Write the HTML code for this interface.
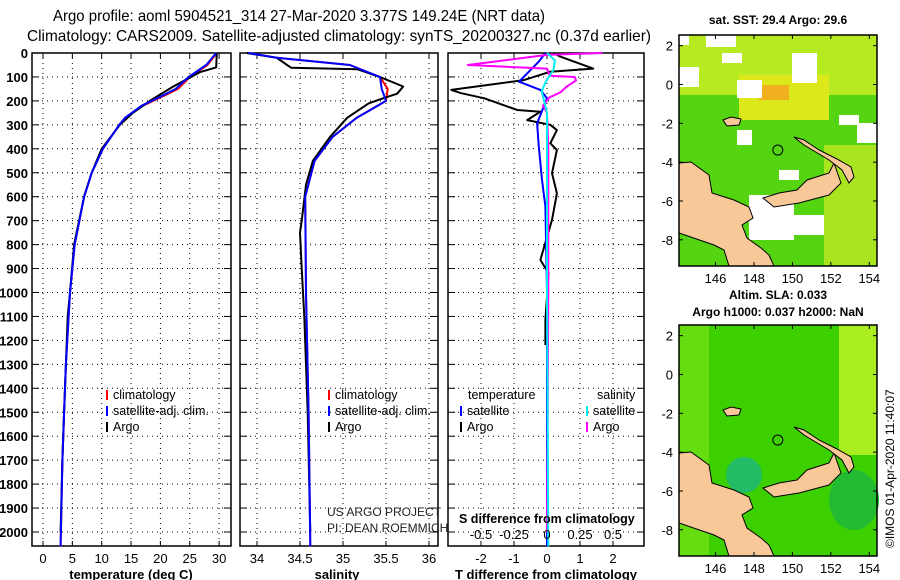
<!DOCTYPE html>
<html><head><meta charset="utf-8"><style>
body{margin:0;background:#fff}
svg{display:block;font-family:"Liberation Sans",sans-serif}
.t{font-size:14px;fill:#000}
.b{font-weight:bold;font-size:12.5px}
</style></head><body>
<svg id="s" width="900" height="580" viewBox="0 0 900 580">
<text x="53" y="21" textLength="492" lengthAdjust="spacingAndGlyphs" class="t" style="font-size:16px">Argo profile: aoml 5904521_314 27-Mar-2020 3.377S 149.24E (NRT data)</text>
<text x="27" y="41" textLength="624" lengthAdjust="spacingAndGlyphs" class="t" style="font-size:16px">Climatology: CARS2009. Satellite-adjusted climatology: synTS_20200327.nc (0.37d earlier)</text>
<g id="plots"></g>
<g id="maps"></g>
</svg>
<script>
// ---- data ----
const depthTicks=[0,100,200,300,400,500,600,700,800,900,1000,1100,1200,1300,1400,1500,1600,1700,1800,1900,2000];
const tempTicks=[0,5,10,15,20,25,30];
const salTicks=[34,34.5,35,35.5,36];
const salTickLabels=["34","34.5","35","35.5","36"];
const tdiffTicks=[-2,-1,0,1,2];
const sdiffTicks=[-0.5,-0.25,0,0.25,0.5];
const sdiffTickLabels=["-0.5","-0.25","0","0.25","0.5"];
const argoTempDepth=[0,60,80,140,200,250,300,400,500,600,800,1000,1100,1300,1500,1700,2000];
const argoTemp=[29.6,29.5,26.7,22.2,18.2,15.3,13.1,10,8.3,7.0,5.3,4.6,4.2,3.9,3.6,3.3,3.0];
const climTempDepth=[0,50,100,150,180,220,270,300,400,500,600,800,1000,1300,1500,1700,2060];
const climTemp=[29.6,28,25,23,20.5,17,14,13,10.2,8.3,7,5.4,4.6,3.9,3.6,3.3,3.0];
const satTemp=[29.5,27.8,24.8,22.6,20.2,16.8,14,13,10.2,8.3,7,5.4,4.6,3.9,3.6,3.3,3.0];
const argoSalDepth=[0,20,50,62,68,100,140,170,185,210,270,350,450,550,700,750,900,1100,1500,2000];
const argoSal=[33.88,34.23,34.35,34.4,35.17,35.43,35.7,35.63,35.5,35.3,35.05,34.85,34.65,34.57,34.52,34.5,34.52,34.55,34.59,34.62];
const climSalDepth=[0,20,50,100,150,200,270,350,450,600,1000,1500,2060];
const climSal=[33.9,34.23,35.08,35.43,35.52,35.5,35.16,34.88,34.67,34.56,34.57,34.6,34.62];
const satSal=[33.9,34.23,35.08,35.43,35.45,35.5,35.16,34.88,34.67,34.56,34.57,34.6,34.62];
const tdArgoDepth=[0,15,65,78,113,154,168,189,238,245,280,300,322,377,405,502,586,697,864,920,1115,1219];
const tdArgo=[0.2,0.4,1.4,0.1,-0.7,-2.9,-2.6,-1.9,-0.9,-0.2,-0.6,0.1,0.3,0.1,0.3,0.15,0.3,0.15,-0.2,0.05,-0.05,-0.05];
const tdSatDepth=[0,36,85,120,154,189,294,391,530,641,1000,2060];
const tdSat=[-0.05,-0.25,-0.6,-0.85,-0.2,0,-0.3,-0.25,-0.15,-0.05,0,0];
const sdArgoDepth=[0,8,50,65,95,100,115,140,165,185,220,250,400,1000,2000];
const sdArgo=[0.42,0,-0.6,0,0.02,0.21,0.22,0.15,0.1,0.02,-0.03,0,0.01,0.01,0];
const sdSatDepth=[0,30,70,120,160,250,1000,2060];
const sdSat=[0,0.06,0.05,-0.01,-0.04,0,0,0.01];

const NS='http://www.w3.org/2000/svg';
const plots=document.getElementById('plots');
function mk(tag,attrs,parent){const e=document.createElementNS(NS,tag);for(const k in attrs)e.setAttribute(k,attrs[k]);(parent||plots).appendChild(e);return e;}
const Y0=53,YK=0.2395,YB=546;
const yS=d=>Y0+d*YK;
const panels=[
 {x0:32,x1:231,f:v=>43+v*5.87,name:'temperature'},
 {x0:240,x1:438,f:v=>257+(v-34)*86,name:'salinity'},
 {x0:448,x1:644,f:v=>547+v*33,name:'difference'}];
const sdX=v=>547+v*132;

panels.forEach((p,i)=>{
  const g=mk('g',{});
  
  
  const ticks=i==0?tempTicks:i==1?salTicks:tdiffTicks;
  ticks.forEach(t=>{const x=p.f(t);
    const l=mk('line',{x1:x,x2:x,y1:Y0,y2:YB,stroke:'#000','stroke-width':1,'stroke-dasharray':'1,4'},g);
    
    mk('line',{x1:x,x2:x,y1:Y0,y2:Y0+5,stroke:'#000'},g);
    mk('line',{x1:x,x2:x,y1:YB,y2:YB-5,stroke:'#000'},g);});
  depthTicks.forEach(d=>{const y=yS(d);
    const l=mk('line',{x1:p.x0,x2:p.x1,y1:y,y2:y,stroke:'#000','stroke-width':1,'stroke-dasharray':'1,4'},g);
    
    mk('line',{x1:p.x0,x2:p.x0+7,y1:y,y2:y,stroke:'#000'},g);
    mk('line',{x1:p.x1,x2:p.x1-7,y1:y,y2:y,stroke:'#000'},g);});
  const r=mk('rect',{x:p.x0,y:Y0,width:p.x1-p.x0,height:YB-Y0,fill:'none',stroke:'#000','stroke-width':1.5},g);
  
  ticks.forEach((t,k)=>{const tx=mk('text',{x:p.f(t),y:563,'text-anchor':'middle','font-size':13},g);
    tx.textContent=i==1?salTickLabels[k]:String(t);
    });
});
depthTicks.forEach(d=>{const t=mk('text',{x:28,y:yS(d)+5,'text-anchor':'end','font-size':13,'font-weight':'bold'});
  t.textContent=String(d);});

function line(xs,ds,fx,color,w,name){
  const pts=xs.map((v,k)=>fx(v).toFixed(1)+','+yS(ds[k]).toFixed(1)).join(' ');
  const e=mk('polyline',{points:pts,fill:'none',stroke:color,'stroke-width':w,'stroke-linejoin':'round'});
  }
const P=panels;
line(climTemp,climTempDepth,P[0].f,'#f00',2,'temp-climatology-line');
line(argoTemp,argoTempDepth,P[0].f,'#000',2,'temp-argo-line');
line(satTemp,climTempDepth,P[0].f,'#00f',2,'temp-satellite-line');
line(climSal,climSalDepth,P[1].f,'#f00',2,'sal-climatology-line');
line(argoSal,argoSalDepth,P[1].f,'#000',2,'sal-argo-line');
line(satSal,climSalDepth,P[1].f,'#00f',2,'sal-satellite-line');
line(tdArgo,tdArgoDepth,P[2].f,'#000',2,'tdiff-argo-line');
line(tdSat,tdSatDepth,P[2].f,'#00f',2,'tdiff-satellite-line');
line(sdArgo,sdArgoDepth,sdX,'#f0f',2,'sdiff-argo-line');
line(sdSat,sdSatDepth,sdX,'#0ee',2,'sdiff-satellite-line');

function txt(x,y,s,name,extra){const t=mk('text',Object.assign({x:x,y:y,'font-size':12.5},extra||{}));t.textContent=s;return t;}
function dash(x,y,c,name){const l=mk('line',{x1:x,x2:x,y1:y-10,y2:y,stroke:c,'stroke-width':2});}
[[107,113],[329,335]].forEach(([dx,tx],i)=>{
  dash(dx,400,'#f00','legend-climatology-swatch');txt(tx,399,'climatology','legend-climatology');
  dash(dx,416,'#00f','legend-satellite-swatch');txt(tx,415,'satellite-adj. clim.','legend-satellite');
  dash(dx,432,'#000','legend-argo-swatch');txt(tx,431,'Argo','legend-argo');});
txt(468,399,'temperature','legend-temperature-header');txt(597,399,'salinity','legend-salinity-header');
dash(461,416,'#00f','legend-t-satellite-swatch');txt(467,415,'satellite','legend-t-satellite');
dash(461,432,'#000','legend-t-argo-swatch');txt(467,431,'Argo','legend-t-argo');
dash(587,416,'#0ee','legend-s-satellite-swatch');txt(593,415,'satellite','legend-s-satellite');
dash(587,432,'#f0f','legend-s-argo-swatch');txt(593,431,'Argo','legend-s-argo');
txt(327,516,'US ARGO PROJECT','credit-project',{'font-size':12,fill:'#222'});
txt(327,532,'PI: DEAN ROEMMICH','credit-pi',{'font-size':12,fill:'#222'});
txt(459,523,'S difference from climatology','sdiff-axis-title',{'font-weight':'bold'});
sdiffTicks.forEach((t,k)=>txt(sdX(t),539,sdiffTickLabels[k],'sdiff-tick-label',{'text-anchor':'middle','font-size':13}));
txt(131,579,'temperature (deg C)','temp-axis-title',{'text-anchor':'middle','font-weight':'bold','font-size':13});
txt(337,579,'salinity','sal-axis-title',{'text-anchor':'middle','font-weight':'bold','font-size':13});
txt(546,579,'T difference from climatology','tdiff-axis-title',{'text-anchor':'middle','font-weight':'bold','font-size':13});

// ---- maps ----
const maps=document.getElementById('maps');
const latTicks=[2,0,-2,-4,-6,-8];
const lonTicks=[146,148,150,152,154];
function mapPanel(y0,h,top){
  const g=mk('g',{},maps);
  
  const X0=679,W=198;
  const lx=lon=>X0+(lon-144.1)*W/10.3, ly=lat=>y0+(2.55-lat)*h/11.9;
  mk('rect',{x:X0,y:y0,width:W,height:h,fill:top?'#55d411':'#3dd000'},g);
  if(top){
    mk('rect',{x:X0,y:y0,width:W,height:60,fill:'#b8ea22'},g);
    mk('rect',{x:X0+60,y:y0+40,width:90,height:45,fill:'#dde81a'},g);
    mk('rect',{x:X0+80,y:y0+50,width:30,height:15,fill:'#f0b020'},g);
    mk('rect',{x:X0+145,y:y0+110,width:53,height:120,fill:'#a8e420'},g);
    [[X0+27,y0+0,30,12],[X0+43,y0+18,20,10],[X0+0,y0+32,20,20],[X0+58,y0+45,25,18],[X0+113,y0+18,25,30],[X0+160,y0+80,20,10],[X0+178,y0+88,20,20],[X0+58,y0+95,15,15],[X0+100,y0+135,20,10],[X0+70,y0+160,45,45],[X0+115,y0+180,30,20],[X0+0,y0+0,10,10]].forEach(r=>{
      const e=mk('rect',{x:r[0],y:r[1],width:r[2],height:r[3],fill:'#fff'},g);});
  } else {
    mk('rect',{x:X0,y:y0,width:30,height:h,fill:'#66dd11'},g);
    mk('rect',{x:X0+160,y:y0,width:38,height:130,fill:'#aaee22'},g);
    mk('ellipse',{cx:X0+175,cy:y0+175,rx:25,ry:30,fill:'#22bb33'},g);
    mk('ellipse',{cx:X0+65,cy:y0+150,rx:18,ry:18,fill:'#22bb66'},g);
  }
  const pts=(a)=>a.map(p=>(X0+p[0])+','+(y0+p[1]*h/231)).join(' ');
  const land='#f8c898';
  mk('polygon',{points:pts([[0,128],[12,127],[30,140],[33,158],[55,165],[70,172],[74,183],[63,190],[68,203],[82,213],[90,220],[95,231],[50,231],[45,215],[35,210],[0,198]]),fill:land,stroke:'#000','stroke-width':1},g);
  mk('polygon',{points:pts([[84,163],[100,158],[118,155],[128,145],[150,138],[155,128],[162,148],[150,160],[120,168],[95,172]]),fill:land,stroke:'#000','stroke-width':1},g);
  mk('polygon',{points:pts([[115,102],[125,105],[140,115],[158,124],[172,132],[175,142],[170,148],[163,135],[150,125],[125,110]]),fill:land,stroke:'#000','stroke-width':1},g);
  mk('polygon',{points:pts([[44,85],[52,82],[62,84],[60,90],[48,91]]),fill:land,stroke:'#000','stroke-width':1},g);
  mk('circle',{cx:lx(149.24),cy:ly(-3.377),r:5,fill:'none',stroke:'#000'},g);
  mk('rect',{x:X0,y:y0,width:W,height:h,fill:'none',stroke:'#000','stroke-width':1.5},g);
  latTicks.forEach(l=>{const y=ly(l);mk('line',{x1:X0,x2:X0+4,y1:y,y2:y,stroke:'#000'},g);mk('line',{x1:X0+W,x2:X0+W-4,y1:y,y2:y,stroke:'#000'},g);
    const t=mk('text',{x:X0-6,y:y+5,'text-anchor':'end','font-size':13},g);t.textContent=String(l);});
  lonTicks.forEach(l=>{const x=lx(l);mk('line',{x1:x,x2:x,y1:y0,y2:y0+4,stroke:'#000'},g);mk('line',{x1:x,x2:x,y1:y0+h,y2:y0+h-4,stroke:'#000'},g);
    const t=mk('text',{x:x,y:y0+h+17,'text-anchor':'middle','font-size':13},g);t.textContent=String(l);});
}
mapPanel(35,231,true);
mapPanel(325,231,false);
txt(778,24,'sat. SST: 29.4 Argo: 29.6','sst-map-title',{'text-anchor':'middle','font-weight':'bold','font-size':12});
txt(778,299,'Altim. SLA: 0.033','sla-map-title',{'text-anchor':'middle','font-weight':'bold','font-size':12});
txt(778,316,'Argo h1000: 0.037 h2000: NaN','sla-map-subtitle',{'text-anchor':'middle','font-weight':'bold','font-size':12});
txt(0,0,'©IMOS 01-Apr-2020 11:40:07','timestamp',{transform:'translate(894,548) rotate(-90)','font-size':12});
</script>
</body></html>
